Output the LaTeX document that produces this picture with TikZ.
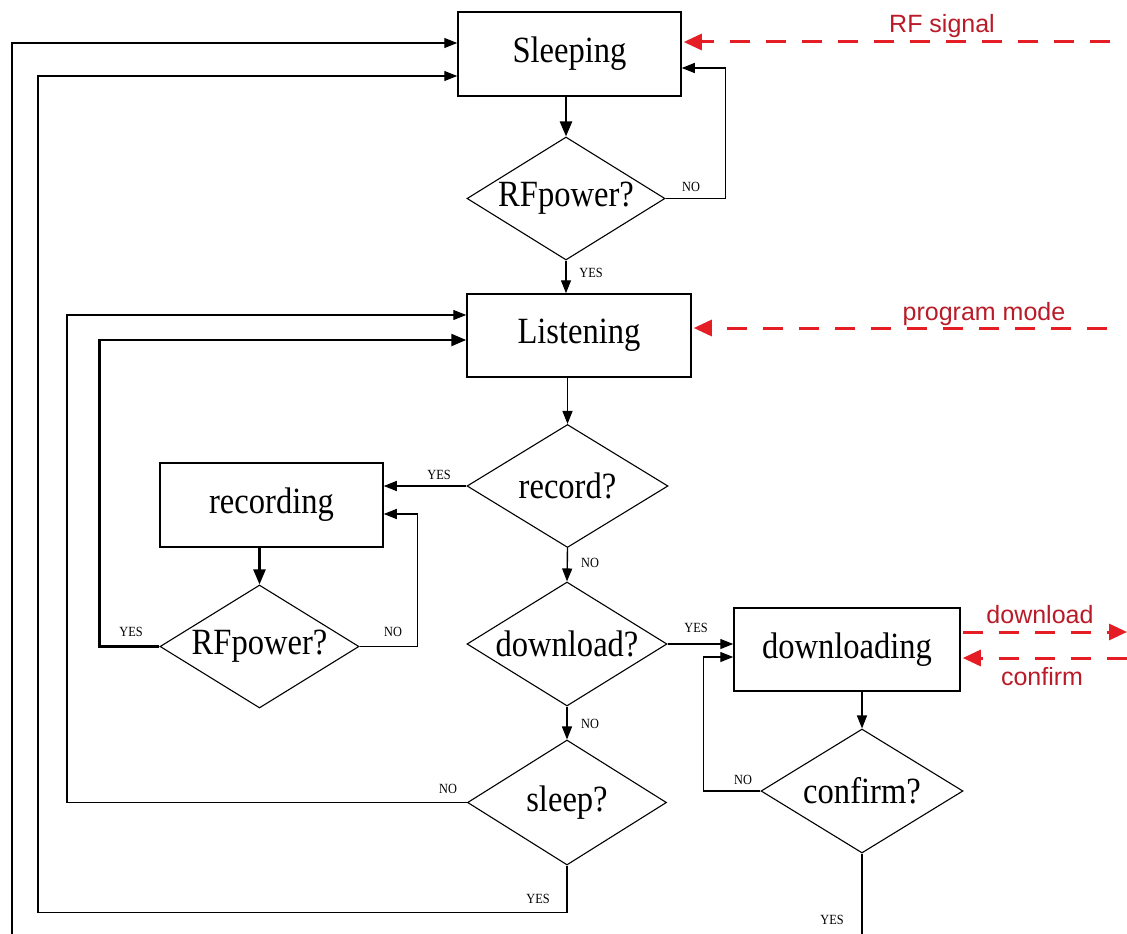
\documentclass[tikz,border=0pt]{standalone}
\usepackage{fontspec}
\setmainfont{Liberation Serif}
\newfontfamily\dfont[FakeStretch=0.88]{Liberation Serif}
\newfontfamily\rfont{Liberation Sans}
\usetikzlibrary{shapes.geometric,arrows.meta,calc}
\definecolor{redline}{RGB}{228,30,36}
\definecolor{redtext}{RGB}{185,28,40}
\begin{document}
\begin{tikzpicture}[x=1pt,y=-1pt,
  box/.style={draw,line width=1.5pt,rectangle,inner sep=0pt,font=\dfont\fontsize{37}{40}\selectfont},
  dec/.style={draw,line width=1.1pt,diamond,shape aspect=1.6,inner sep=0pt,font=\dfont\fontsize{37}{40}\selectfont},
  conn/.style={line width=1.4pt,-{Triangle[length=13pt,width=10pt]}},
  thickconn/.style={line width=2.4pt,-{Triangle[length=15pt,width=12pt]}},
  lbl/.style={font=\dfont\fontsize{14}{16}\selectfont,inner sep=0pt},
  sig/.style={draw=redline,line width=3pt,dash pattern=on 20pt off 16pt,-{Triangle[length=18pt,width=16pt]}},
  sigtext/.style={font=\rfont\fontsize{25}{28}\selectfont,text=redtext,inner sep=0pt}]
\useasboundingbox[fill=white] (0,0) rectangle (1127,934);

% nodes
\node[box,minimum width=223pt,minimum height=84pt] (S) at (569.5,54) {Sleeping};
\node[dec,minimum width=198pt,minimum height=123pt] (RF1) at (566,198.5) {RFpower?};
\node[box,minimum width=224pt,minimum height=83pt] (L) at (579,335.5) {Listening};
\node[dec,minimum width=201pt,minimum height=123pt] (rec) at (567.5,486) {record?};
\node[box,minimum width=223pt,minimum height=84pt] (R) at (271.5,505) {recording};
\node[dec,minimum width=199pt,minimum height=123pt] (RF2) at (259.5,646.5) {RFpower?};
\node[dec,minimum width=200pt,minimum height=124pt] (dl) at (567,644) {download?};
\node[box,minimum width=226pt,minimum height=83pt] (D) at (847,649.5) {downloading};
\node[dec,minimum width=199pt,minimum height=125pt] (sl) at (567,802.5) {sleep?};
\node[dec,minimum width=202pt,minimum height=124pt] (cf) at (862,791) {confirm?};

% flow
\draw[thickconn] (RF1.north |- S.south) -- (RF1.north);
\draw[conn] (RF1.east) -- ++(60,0) |- ($(S.east)+(0,14)$);
\draw[conn] (RF1.south) -- (RF1.south |- L.north);
\draw[conn] (rec.north |- L.south) -- (rec.north);
\draw[conn] (rec.west) -- (rec.west -| R.east);
\draw[conn] (rec.south) -- (dl.north);
\draw[thickconn] (RF2.north |- R.south) -- (RF2.north);
\draw[conn] (RF2.east) -- ++(58,0) |- ($(R.east)+(0,9)$);
\draw[thickconn] (RF2.west) -- ++(-60,0) |- ($(L.west)+(0,4.5)$);
\draw[conn] (sl.west) -- ++(-400,0) |- ($(L.west)+(0,-20.5)$);
\draw[conn] (dl.east) -- (dl.east -| D.west);
\draw[conn] (dl.south) -- (sl.north);
\draw[conn] (cf.north |- D.south) -- (cf.north);
\draw[conn] (cf.west) -- ++(-57,0) |- ($(D.west)+(0,7.5)$);
\draw[conn] (sl.south) -- ++(0,47) -| (38,200) |- ($(S.west)+(0,22)$);
\draw[conn] (cf.south) -- ++(0,110) -| (12,200) |- ($(S.west)+(0,-11)$);

% labels
\node[lbl] (n1) at (691,187) {NO};
\node[lbl] (y1) at (591,273) {YES};
\node[lbl] (y2) at (439,475) {YES};
\node[lbl] (y3) at (131,632) {YES};
\node[lbl] (n2) at (393,632) {NO};
\node[lbl] (n3) at (590,563) {NO};
\node[lbl] (y4) at (696,628) {YES};
\node[lbl] (n4) at (590,724) {NO};
\node[lbl] (n5) at (448,789) {NO};
\node[lbl] (y5) at (538,899) {YES};
\node[lbl] (n6) at (743,780) {NO};
\node[lbl] (y6) at (832,920) {YES};

% external signals
\coordinate (e1) at (1110,42);
\coordinate (e2) at (1107,328);
\coordinate (e3) at (1127,632);
\coordinate (e4) at (1127,658);
\draw[sig] (e1) -- ($(S.east)+(2,-12)$);
\draw[sig] (e2) -- ($(L.east)+(2,-7.5)$);
\draw[sig] ($(D.east)+(2,-17.5)$) -- (e3);
\draw[sig] (e4) -- ($(D.east)+(2,8.5)$);
\node[sigtext,anchor=base] (t1) at (942,33) {RF signal};
\node[sigtext,anchor=base] (t2) at (984,320) {program mode};
\node[sigtext,anchor=base] (t3) at (1040,623) {download};
\node[sigtext] (t4) at (1042,677) {confirm};
\end{tikzpicture}
\end{document}
